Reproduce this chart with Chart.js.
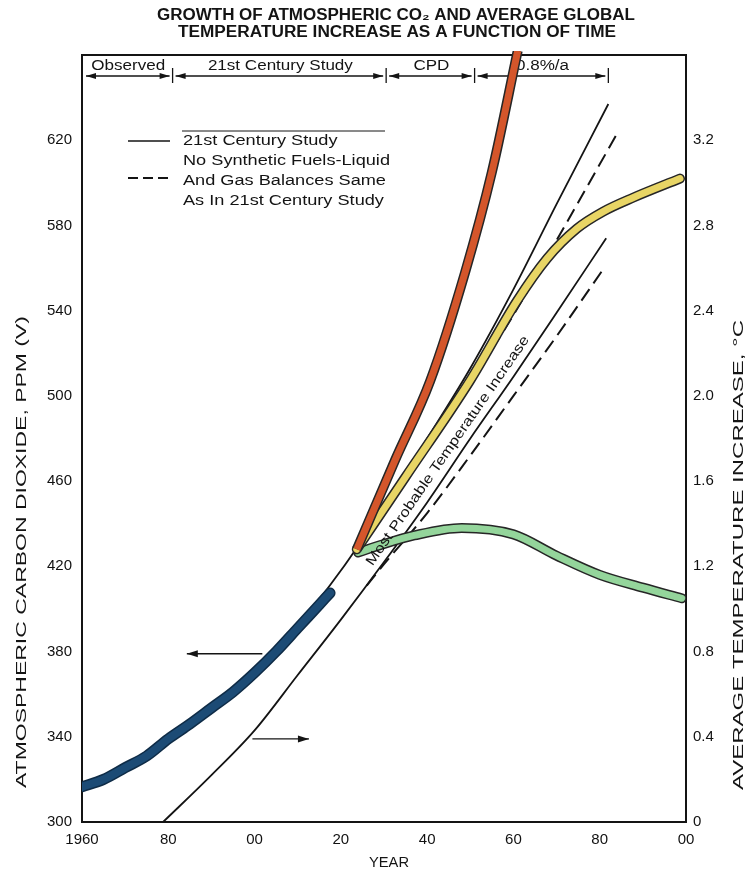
<!DOCTYPE html>
<html>
<head>
<meta charset="utf-8">
<script src="https://cdn.jsdelivr.net/npm/chart.js@4.4.1/dist/chart.umd.min.js"></script>
<style>
  html, body { margin: 0; padding: 0; background: #fff; }
  #wrap { width: 752px; height: 873px; }
</style>
</head>
<body>
<div id="wrap"><canvas id="c" width="752" height="873"></canvas></div>
<script>
/* CO2 + temperature vs time — scanned report figure redrawn */

// axes
const yearTicks = [1960, 1980, 2000, 2020, 2040, 2060, 2080, 2100];
const yearLabels = ['1960', '80', '00', '20', '40', '60', '80', '00'];
const ppmTicks = [300, 340, 380, 420, 460, 500, 540, 580, 620];
const tempTicks = [0, 0.4, 0.8, 1.2, 1.6, 2.0, 2.4, 2.8, 3.2];

// observed CO2 (blue)
const obsYears = [1960, 1965, 1970, 1975, 1980, 1985, 1990, 1995, 2000, 2005, 2010, 2015, 2017.5];
const obsPpm = [316.5, 320, 325.5, 331, 339, 346, 353.5, 361, 370, 380, 391, 402, 407.5];

// CO2, 21st Century Study (solid) and no synthetic fuels (dashed)
const studyYears = [1960, 1970, 1980, 1990, 2000, 2010, 2020, 2030, 2040, 2050, 2060, 2070, 2082];
const studyPpm = [318, 325, 337, 352, 370, 392, 418, 448, 480, 513, 550, 590, 637];
const noSynYears = [2025, 2040, 2050, 2060, 2070, 2084];
const noSynPpm = [433, 476, 506, 538, 573, 623];

// most probable temperature increase, deg C (right axis)
const tempYears = [1978.8, 1990, 2000, 2010, 2020, 2030, 2040, 2050, 2060, 2070, 2081.5];
const tempStudy = [0, 0.22, 0.43, 0.69, 0.95, 1.22, 1.50, 1.80, 2.09, 2.39, 2.74];
const tempNoSynYears = [2026, 2030, 2040, 2050, 2060, 2070, 2081];
const tempNoSyn = [1.11, 1.21, 1.45, 1.72, 2.00, 2.28, 2.60];

// hand-coloured scenario curves
const redYears = [2023.7, 2032.6, 2040.7, 2048.8, 2055, 2061];
const redPpm = [428, 470, 507, 558, 605, 662];
const yellowYears = [2023.7, 2035, 2049.9, 2060.8, 2067.8, 2074.7, 2080.8, 2087.7, 2098.6];
const yellowPpm = [428, 462, 507, 544.5, 564.5, 578.5, 586.5, 593, 602];
const greenYears = [2024, 2030, 2037, 2048, 2060, 2070, 2080, 2090, 2099];
const greenPpm = [426.5, 430.5, 434.5, 438, 435, 425, 416, 410, 405];

// header periods
const periodBounds = [1960, 1981, 2030.5, 2051, 2082];
const periodLabels = ['Observed', '21st Century Study', 'CPD', '0.8%/a'];

const legendSolid = ['21st Century Study'];
const legendDashed = ['No Synthetic Fuels-Liquid', 'And Gas Balances Same', 'As In 21st Century Study'];

const FONT = '"Liberation Sans", Arial, sans-serif';
const INK = '#141414';

const pts = (xs, ys) => xs.map((x, i) => ({ x, y: ys[i] }));

function line(data, color, width, extra) {
  return Object.assign({
    data, borderColor: color, borderWidth: width, pointRadius: 0,
    cubicInterpolationMode: 'monotone', fill: false, borderCapStyle: 'butt'
  }, extra || {});
}

// draws text stretched along its direction to a given length
function fitText(ctx, text, x, y, width, font, angle, align) {
  ctx.save();
  ctx.font = font;
  const w = ctx.measureText(text).width;
  ctx.translate(x, y);
  ctx.rotate(angle || 0);
  ctx.scale(width ? width / w : 1, 1);
  ctx.textAlign = align || 'center';
  ctx.textBaseline = 'middle';
  ctx.fillText(text, 0, 0);
  ctx.restore();
}

function arrowHead(ctx, x, y, dx, dy, len, half) {
  const n = Math.hypot(dx, dy), ux = dx / n, uy = dy / n;
  ctx.beginPath();
  ctx.moveTo(x, y);
  ctx.lineTo(x - ux * len - uy * half, y - uy * len + ux * half);
  ctx.lineTo(x - ux * len + uy * half, y - uy * len - ux * half);
  ctx.closePath();
  ctx.fill();
}

function arrow(ctx, x1, y1, x2, y2) {
  ctx.beginPath(); ctx.moveTo(x1, y1); ctx.lineTo(x2, y2); ctx.stroke();
  arrowHead(ctx, x2, y2, x2 - x1, y2 - y1, 11, 3.5);
}

const annot = {
  id: 'annot',
  beforeDatasetsDraw(chart) {
    const { ctx, chartArea: a, scales: { x } } = chart;
    ctx.save();
    ctx.strokeStyle = INK; ctx.fillStyle = INK;
    // top frame
    ctx.lineWidth = 2;
    ctx.beginPath(); ctx.moveTo(a.left - 1, a.top); ctx.lineTo(a.right + 1, a.top); ctx.stroke();

    // period header
    const hy = a.top + 21;
    ctx.lineWidth = 1.3;
    const bx = periodBounds.map(v => x.getPixelForValue(v));
    for (let i = 0; i < periodLabels.length; i++) {
      const l = bx[i] + (i === 0 ? 4 : 3), r = bx[i + 1] - 3;
      ctx.beginPath(); ctx.moveTo(l, hy); ctx.lineTo(r, hy); ctx.stroke();
      arrowHead(ctx, l, hy, -1, 0, 10, 3);
      arrowHead(ctx, r, hy, 1, 0, 10, 3);
    }
    bx.slice(1).forEach(px => {
      ctx.beginPath(); ctx.moveTo(px, hy - 8); ctx.lineTo(px, hy + 7); ctx.stroke();
    });
    ctx.font = '14px ' + FONT;
    const hs = 145 / ctx.measureText(periodLabels[1]).width;
    periodLabels.forEach((t, i) => {
      const w = ctx.measureText(t).width * hs;
      fitText(ctx, t, (bx[i] + bx[i + 1]) / 2 + 1, a.top + 11, w, '14px ' + FONT);
    });

    // legend
    ctx.lineWidth = 1.6;
    ctx.beginPath(); ctx.moveTo(128, 141); ctx.lineTo(170, 141); ctx.stroke();
    ctx.lineWidth = 1;
    ctx.beginPath(); ctx.moveTo(182, 131); ctx.lineTo(385, 131); ctx.stroke();
    ctx.lineWidth = 2;
    ctx.setLineDash([10, 5]);
    ctx.beginPath(); ctx.moveTo(128, 178); ctx.lineTo(172, 178); ctx.stroke();
    ctx.setLineDash([]);
    ctx.font = '14px ' + FONT;
    const ls = 207 / ctx.measureText(legendDashed[0]).width;
    fitText(ctx, legendSolid[0], 183, 141, ctx.measureText(legendSolid[0]).width * ls, '14px ' + FONT, 0, 'left');
    legendDashed.forEach((t, i) => {
      ctx.font = '14px ' + FONT;
      fitText(ctx, t, 183, 161 + i * 20, ctx.measureText(t).width * ls, '14px ' + FONT, 0, 'left');
    });
    ctx.restore();
  },
  afterDatasetsDraw(chart) {
    const { ctx, scales: { x, y, y2 } } = chart;
    ctx.save();
    ctx.strokeStyle = INK; ctx.fillStyle = INK; ctx.lineWidth = 1.4;
    // which curve reads on which axis
    arrow(ctx, x.getPixelForValue(2001.8), y.getPixelForValue(379), x.getPixelForValue(1984.3), y.getPixelForValue(379));
    arrow(ctx, x.getPixelForValue(1999.5), y2.getPixelForValue(0.39), x.getPixelForValue(2012.6), y2.getPixelForValue(0.39));

    // label along the temperature curve
    const p1 = { x: x.getPixelForValue(2030), y: y2.getPixelForValue(1.22) };
    const p2 = { x: x.getPixelForValue(2070), y: y2.getPixelForValue(2.39) };
    const ang = Math.atan2(p2.y - p1.y, p2.x - p1.x);
    const cx = x.getPixelForValue(2047.1), cy = y2.getPixelForValue(1.71);
    const off = 12;
    fitText(ctx, 'Most Probable Temperature Increase',
      cx + Math.sin(ang) * off, cy - Math.cos(ang) * off, 276, '14px ' + FONT, ang);
    ctx.restore();
  },
  afterDraw(chart) {
    const { ctx } = chart;
    ctx.save();
    ctx.fillStyle = INK;
    fitText(ctx, 'GROWTH OF ATMOSPHERIC CO\u2082 AND AVERAGE GLOBAL', 396, 16, 478, 'bold 16px ' + FONT);
    fitText(ctx, 'TEMPERATURE INCREASE AS A FUNCTION OF TIME', 397, 33, 438, 'bold 16px ' + FONT);
    fitText(ctx, 'ATMOSPHERIC CARBON DIOXIDE, PPM (V)', 22, 552, 472, '14px ' + FONT, -Math.PI / 2);
    fitText(ctx, 'AVERAGE TEMPERATURE INCREASE, \u00B0C', 739, 555, 470, '14px ' + FONT, -Math.PI / 2);
    fitText(ctx, 'YEAR', 389, 863, 40, '15px ' + FONT);
    ctx.restore();
  }
};

const outline = '#262626';
const datasets = [
  line(pts(redYears, redPpm), '#d4562b', 7, { yAxisID: 'y', order: 1, clip: { left: 0, right: 0, top: 4, bottom: 0 } }),
  line(pts(redYears, redPpm), outline, 10, { yAxisID: 'y', order: 2, clip: { left: 0, right: 0, top: 4, bottom: 0 } }),
  line(pts(yellowYears, yellowPpm), '#e8d565', 7, { yAxisID: 'y', order: 3, borderCapStyle: 'round' }),
  line(pts(yellowYears, yellowPpm), outline, 10, { yAxisID: 'y', order: 4, borderCapStyle: 'round' }),
  line(pts(greenYears, greenPpm), '#94d59b', 7, { yAxisID: 'y', order: 5, borderCapStyle: 'round' }),
  line(pts(greenYears, greenPpm), outline, 10, { yAxisID: 'y', order: 6, borderCapStyle: 'round' }),
  line(pts(obsYears, obsPpm), '#1c4b75', 8, { yAxisID: 'y', order: 7, borderCapStyle: 'round' }),
  line(pts(obsYears, obsPpm), '#0f2c47', 11, { yAxisID: 'y', order: 8, borderCapStyle: 'round' }),
  line(pts(studyYears, studyPpm), INK, 1.8, { yAxisID: 'y', order: 9 }),
  line(pts(noSynYears, noSynPpm), INK, 2, { yAxisID: 'y', order: 10, borderDash: [14, 7] }),
  line(pts(tempYears, tempStudy), INK, 1.8, { yAxisID: 'y2', order: 11 }),
  line(pts(tempNoSynYears, tempNoSyn), INK, 2, { yAxisID: 'y2', order: 12, borderDash: [14, 7] })
];

const tickFont = { family: FONT, size: 15 };

new Chart(document.getElementById('c'), {
  type: 'line',
  data: { datasets },
  options: {
    responsive: false,
    animation: false,
    events: [],
    layout: { padding: { top: 55, left: 0, right: 0, bottom: 0 } },
    plugins: { legend: { display: false }, tooltip: { enabled: false } },
    scales: {
      x: {
        type: 'linear', min: 1960, max: 2100,
        afterBuildTicks: s => { s.ticks = yearTicks.map(v => ({ value: v })); },
        afterFit: s => { s.height = 51; },
        ticks: { callback: v => yearLabels[yearTicks.indexOf(v)], font: tickFont, color: '#111', padding: 9, maxRotation: 0, autoSkip: false },
        grid: { display: false, drawTicks: false },
        border: { display: true, color: INK, width: 2 }
      },
      y: {
        position: 'left', min: 300, max: 660,
        afterBuildTicks: s => { s.ticks = ppmTicks.map(v => ({ value: v })); },
        afterFit: s => { s.width = 82; },
        ticks: { font: tickFont, color: '#111', padding: 10 },
        grid: { display: false, drawTicks: false },
        border: { display: true, color: INK, width: 2 }
      },
      y2: {
        position: 'right', min: 0, max: 3.6,
        afterBuildTicks: s => { s.ticks = tempTicks.map(v => ({ value: v })); },
        afterFit: s => { s.width = 66; },
        ticks: { callback: v => v === 0 ? '0' : v.toFixed(1), font: tickFont, color: '#111', padding: 7 },
        grid: { display: false, drawTicks: false },
        border: { display: true, color: INK, width: 2 }
      }
    }
  },
  plugins: [annot]
});
</script>
</body>
</html>
